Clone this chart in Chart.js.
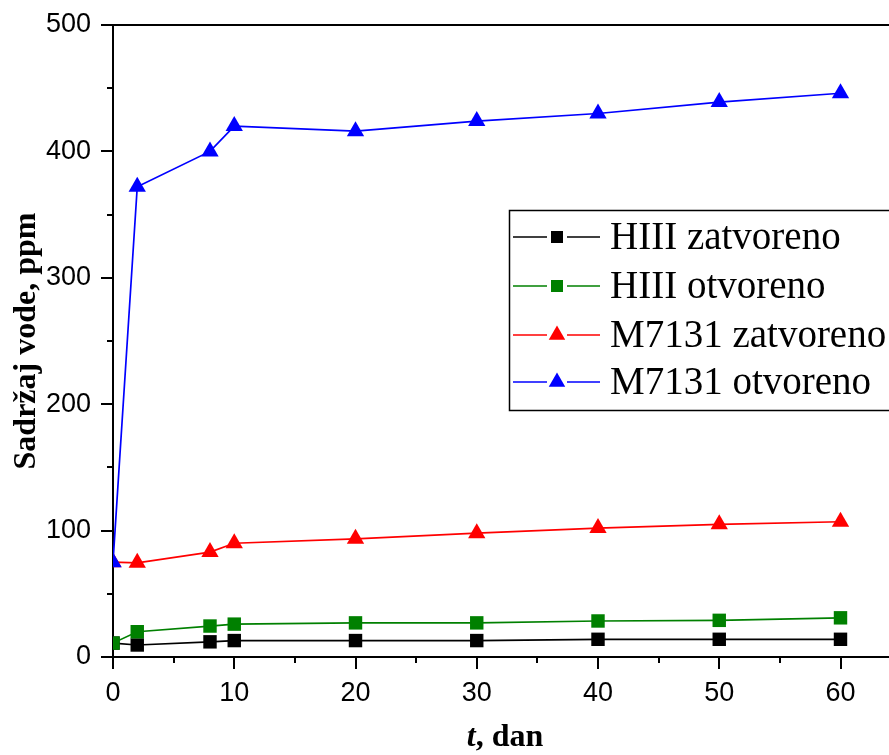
<!DOCTYPE html>
<html>
<head>
<meta charset="utf-8">
<script src="https://cdn.jsdelivr.net/npm/chart.js@4/dist/chart.umd.min.js"></script>
<style>
  body { margin: 0; background: #fff; }
  canvas { display: block; }
</style>
</head>
<body>
<canvas id="myChart" width="889" height="755"></canvas>
<script>
// data
const days = [0, 2, 8, 10, 20, 30, 40, 50, 60];
const hiiiZatvoreno = [11, 9.5, 12, 13, 13, 13, 14, 14, 14];
const hiiiOtvoreno = [11, 20, 24.5, 26, 27, 27, 28.5, 29, 31];
const m7131Zatvoreno = [75, 74.5, 83, 90, 93.5, 98, 102, 105, 107];
const m7131Otvoreno = [75, 372, 400, 420, 416, 424, 430, 439, 446];

const seriesLabels = ["HIII zatvoreno", "HIII otvoreno", "M7131 zatvoreno", "M7131 otvoreno"];
const seriesColors = ["#000000", "#008000", "#ff0000", "#0000ff"];
const seriesMarkers = ["rect", "rect", "triangle", "triangle"];

const xMajor = [0, 10, 20, 30, 40, 50, 60];
const xMinor = [5, 15, 25, 35, 45, 55];
const yMajor = [0, 100, 200, 300, 400, 500];
const yMinor = [50, 150, 250, 350, 450];

const toPoints = (vals) => vals.map((v, i) => ({ x: days[i], y: v }));

const makeSet = (i, vals, order) => ({
  label: seriesLabels[i],
  data: toPoints(vals),
  borderColor: seriesColors[i],
  backgroundColor: seriesColors[i],
  pointStyle: seriesMarkers[i],
  pointRadius: seriesMarkers[i] === "rect" ? 9.5 : 10,
  pointBorderWidth: 0,
  borderWidth: 1.7,
  tension: 0,
  order: order,
});

// ticks, frame line, axis titles and legend
const decorations = {
  id: "decorations",
  afterDraw(chart) {
    const ctx = chart.ctx;
    const area = chart.chartArea;
    const xs = chart.scales.x;
    const ys = chart.scales.y;
    ctx.save();
    ctx.strokeStyle = "#000";
    ctx.lineWidth = 2;
    ctx.beginPath();
    // top frame
    ctx.moveTo(area.left, area.top);
    ctx.lineTo(area.right, area.top);
    xMajor.forEach((v) => {
      const p = Math.round(xs.getPixelForValue(v));
      ctx.moveTo(p, area.bottom);
      ctx.lineTo(p, area.bottom + 12);
    });
    xMinor.forEach((v) => {
      const p = Math.round(xs.getPixelForValue(v));
      ctx.moveTo(p, area.bottom);
      ctx.lineTo(p, area.bottom + 6);
    });
    yMajor.forEach((v) => {
      const p = Math.round(ys.getPixelForValue(v));
      ctx.moveTo(area.left, p);
      ctx.lineTo(area.left - 12, p);
    });
    yMinor.forEach((v) => {
      const p = Math.round(ys.getPixelForValue(v));
      ctx.moveTo(area.left, p);
      ctx.lineTo(area.left - 6, p);
    });
    ctx.stroke();

    // x title: italic t
    ctx.fillStyle = "#000";
    ctx.textBaseline = "alphabetic";
    ctx.textAlign = "left";
    const f1 = "italic bold 32px 'Liberation Serif'";
    const f2 = "bold 32px 'Liberation Serif'";
    ctx.font = f1;
    const w1 = ctx.measureText("t").width;
    ctx.font = f2;
    const w2 = ctx.measureText(", dan").width;
    let x0 = 505 - (w1 + w2) / 2;
    ctx.font = f1;
    ctx.fillText("t", x0, 746);
    ctx.font = f2;
    ctx.fillText(", dan", x0 + w1, 746);

    // y title
    ctx.save();
    ctx.translate(27, 341);
    ctx.rotate(-Math.PI / 2);
    ctx.textAlign = "center";
    ctx.textBaseline = "middle";
    ctx.font = f2;
    ctx.fillText("Sadržaj vode, ppm", 0, 0);
    ctx.restore();

    // legend box
    ctx.lineWidth = 1.5;
    ctx.strokeStyle = "#000";
    ctx.strokeRect(509.5, 210.5, 400, 200);
    const rows = [237, 286, 335, 382];
    ctx.font = "39px 'Liberation Serif'";
    ctx.textBaseline = "middle";
    chart.data.datasets.forEach((ds) => {
      const idx = seriesLabels.indexOf(ds.label);
      const ry = rows[idx];
      ctx.strokeStyle = ds.borderColor;
      ctx.lineWidth = 1.7;
      ctx.beginPath();
      ctx.moveTo(513, ry);
      ctx.lineTo(600, ry);
      ctx.stroke();
      ctx.fillStyle = "#fff";
      ctx.fillRect(547, ry - 9, 20, 18);
      ctx.fillStyle = ds.backgroundColor;
      Chart.helpers.drawPoint(ctx, { pointStyle: ds.pointStyle, radius: ds.pointStyle === "rect" ? 8.5 : 9.5, borderWidth: 0 }, 557, ry);
      ctx.fillStyle = "#000";
      ctx.fillText(ds.label, 610, ry + 2);
    });
    ctx.restore();
  },
};

const makeGraph = () => {
  const chart_ctx = document.getElementById("myChart");
  const data = {
    datasets: [
      makeSet(0, hiiiZatvoreno, 4),
      makeSet(1, hiiiOtvoreno, 3),
      makeSet(2, m7131Zatvoreno, 2),
      makeSet(3, m7131Otvoreno, 1),
    ],
  };
  const config = {
    type: "line",
    data,
    options: {
      responsive: false,
      animation: false,
      layout: { autoPadding: false, padding: { top: 25, right: 0, left: 0, bottom: 0 } },
      plugins: {
        legend: { display: false },
        tooltip: { enabled: false },
        title: { display: false },
      },
      scales: {
        x: {
          type: "linear",
          min: 0,
          max: 64,
          afterFit: (scale) => {
            scale.height = 98;
            scale.paddingLeft = 0;
            scale.paddingRight = 0;
          },
          grid: { display: false },
          border: { display: true, color: "#000", width: 2 },
          ticks: {
            stepSize: 10,
            includeBounds: false,
            color: "#000",
            padding: 12,
            maxRotation: 0,
            font: { family: "'Liberation Sans'", size: 27 },
          },
        },
        y: {
          type: "linear",
          min: 0,
          max: 500,
          afterFit: (scale) => {
            scale.width = 113;
            scale.paddingTop = 0;
            scale.paddingBottom = 0;
          },
          grid: { display: false },
          border: { display: true, color: "#000", width: 2 },
          ticks: {
            stepSize: 100,
            color: "#000",
            padding: 14,
            font: { family: "'Liberation Sans'", size: 27 },
          },
        },
      },
    },
    plugins: [decorations],
  };
  return new Chart(chart_ctx, config);
};

makeGraph();
</script>
</body>
</html>
